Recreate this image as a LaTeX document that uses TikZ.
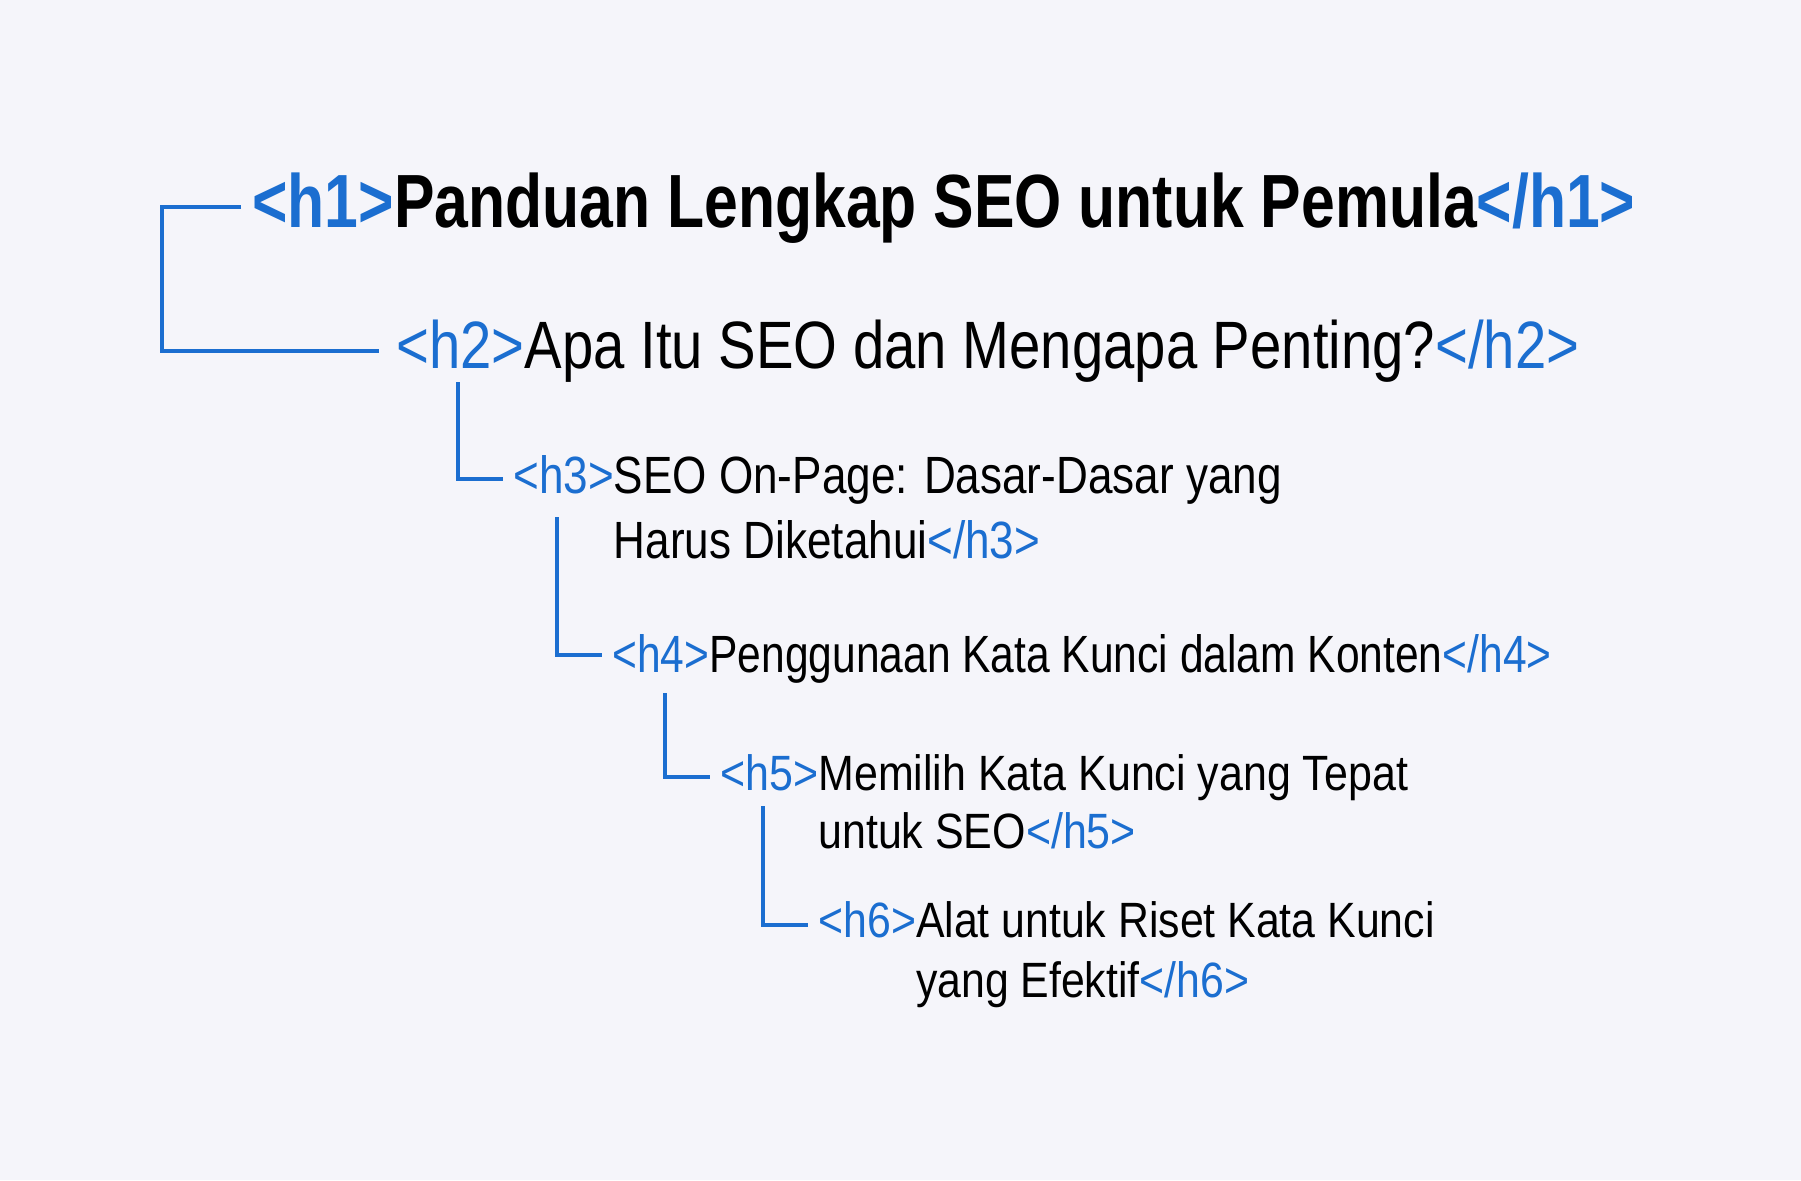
\documentclass[tikz,border=0pt]{standalone}
\usepackage{fontspec}
\setmainfont[FakeStretch=0.82]{Liberation Sans}
\newfontfamily\levelone[FakeStretch=0.805]{Liberation Sans}
\newfontfamily\leveltwo[FakeStretch=0.84]{Liberation Sans}
\newfontfamily\levelthree[FakeStretch=0.841]{Liberation Sans}
\newfontfamily\levelfour[FakeStretch=0.812]{Liberation Sans}
\newfontfamily\levelfive[FakeStretch=0.866]{Liberation Sans}
\newfontfamily\levelsix[FakeStretch=0.863]{Liberation Sans}
\usepackage{xcolor}
\definecolor{tagblue}{HTML}{1B6ED0}
\definecolor{paper}{HTML}{F5F5FA}

\newcommand{\otag}[1]{\textcolor{tagblue}{<#1>}}
\newcommand{\ctag}[1]{\textcolor{tagblue}{</#1>}}

\tikzset{
  head/.style={anchor=base west, inner sep=0pt, align=left},
  link/.style={draw=tagblue, line width=1.7pt},
}

\begin{document}
\begin{tikzpicture}[x=0.5pt,y=-0.5pt]

  \fill[paper] (0,0) rectangle (1801,1180);
  \useasboundingbox (0,0) rectangle (1801,1180);

  % headings, one level below the other
  \node[head, font=\levelone\fontsize{37.7pt}{45pt}\selectfont\bfseries] (h1) at (252,227)
    {\otag{h1}Panduan Lengkap SEO untuk Pemula\ctag{h1}};
  \node[head, font=\leveltwo\fontsize{33.5pt}{40pt}\selectfont] (h2) at (396,368)
    {\otag{h2}Apa Itu SEO dan Mengapa Penting?\ctag{h2}};
  \node[head, font=\levelthree\fontsize{26.2pt}{32.5pt}\selectfont] (h3) at (513,493)
    {\otag{h3}\begin{tabular}[t]{@{}l@{}}SEO On-Page: Dasar-Dasar yang\\Harus Diketahui\ctag{h3}\end{tabular}};
  \node[head, font=\levelfour\fontsize{26.2pt}{32.5pt}\selectfont] (h4) at (612,672)
    {\otag{h4}Penggunaan Kata Kunci dalam Konten\ctag{h4}};
  \node[head, font=\levelfive\fontsize{24.8pt}{29pt}\selectfont] (h5) at (720,790)
    {\otag{h5}\begin{tabular}[t]{@{}l@{}}Memilih Kata Kunci yang Tepat\\untuk SEO\ctag{h5}\end{tabular}};
  \node[head, font=\levelsix\fontsize{24.8pt}{30pt}\selectfont] (h6) at (818,937)
    {\otag{h6}\begin{tabular}[t]{@{}l@{}}Alat untuk Riset Kata Kunci\\yang Efektif\ctag{h6}\end{tabular}};

  % tree lines
  \draw[link] ([shift={(-11,-20)}]h1.base west) -- ++(-79,0) |- ([shift={(-17,-17)}]h2.base west);
  \draw[link] ([shift={(62,14)}]h2.base west) |- ([shift={(-10,-14)}]h3.base west);
  \draw[link] ([shift={(44,24)}]h3.base west) |- ([shift={(-10,-17)}]h4.base west);
  \draw[link] ([shift={(53,21)}]h4.base west) |- ([shift={(-10,-13)}]h5.base west);
  \draw[link] ([shift={(43,16)}]h5.base west) |- ([shift={(-10,-12)}]h6.base west);

\end{tikzpicture}
\end{document}
